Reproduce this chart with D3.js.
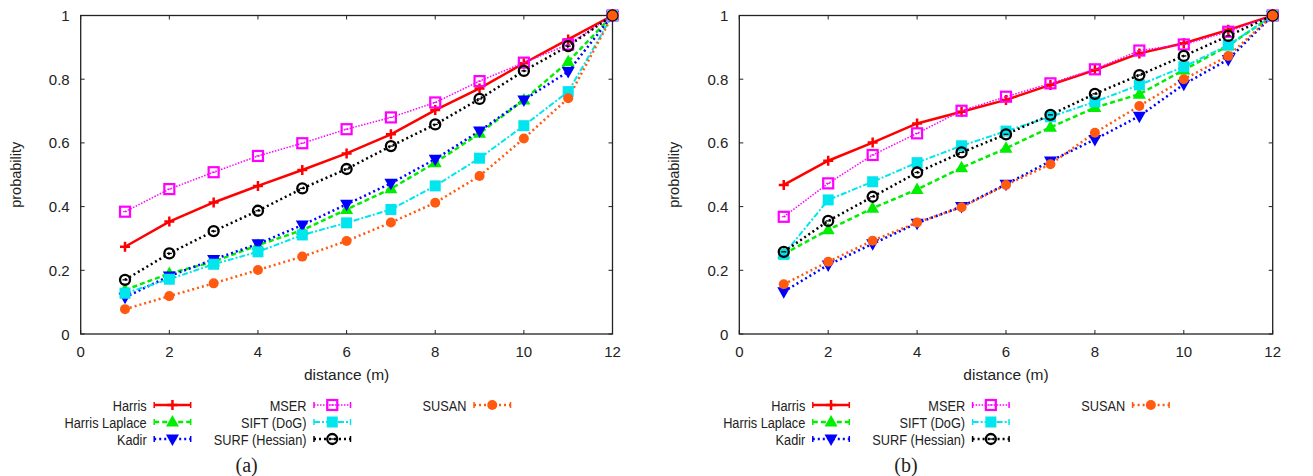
<!DOCTYPE html>
<html>
<head>
<meta charset="utf-8">
<script src="https://cdn.jsdelivr.net/npm/d3@7"></script>
<style>
  body { margin: 0; background: #fff; }
  svg text { font-family: "Liberation Sans", Arial, sans-serif; fill: #222; }
  .caption { font-family: "Liberation Serif", "DejaVu Serif", serif !important; }
</style>
</head>
<body>
<svg id="chart" width="1313" height="476"></svg>
<script>
// distance in metres
const distances = [1, 2, 3, 4, 5, 6, 7, 8, 9, 10, 11, 12];
const xTicks = [0, 2, 4, 6, 8, 10, 12];
const yTicks = [0, 0.2, 0.4, 0.6, 0.8, 1];
const detectorNames = ["Harris", "Harris Laplace", "Kadir", "MSER", "SIFT (DoG)", "SURF (Hessian)", "SUSAN"];

// panel (a)
const harrisA   = [0.274, 0.353, 0.413, 0.465, 0.515, 0.567, 0.627, 0.703, 0.771, 0.850, 0.925, 1];
const laplaceA  = [0.138, 0.190, 0.227, 0.279, 0.326, 0.391, 0.456, 0.538, 0.630, 0.735, 0.855, 1];
const kadirA    = [0.115, 0.182, 0.234, 0.283, 0.342, 0.407, 0.473, 0.549, 0.637, 0.735, 0.824, 1];
const mserA     = [0.384, 0.455, 0.508, 0.559, 0.599, 0.643, 0.680, 0.727, 0.794, 0.852, 0.909, 1];
const siftA     = [0.128, 0.172, 0.219, 0.258, 0.311, 0.349, 0.391, 0.465, 0.552, 0.654, 0.761, 1];
const surfA     = [0.170, 0.253, 0.323, 0.387, 0.457, 0.518, 0.590, 0.658, 0.738, 0.826, 0.904, 1];
const susanA    = [0.078, 0.119, 0.159, 0.201, 0.243, 0.292, 0.350, 0.412, 0.496, 0.614, 0.740, 1];

// panel (b)
const harrisB   = [0.468, 0.544, 0.601, 0.661, 0.698, 0.735, 0.782, 0.829, 0.881, 0.913, 0.955, 1];
const laplaceB  = [0.251, 0.327, 0.395, 0.454, 0.522, 0.583, 0.649, 0.711, 0.753, 0.829, 0.905, 1];
const kadirB    = [0.133, 0.217, 0.283, 0.348, 0.400, 0.470, 0.543, 0.611, 0.684, 0.784, 0.862, 1];
const mserB     = [0.368, 0.473, 0.562, 0.630, 0.701, 0.745, 0.787, 0.831, 0.890, 0.909, 0.949, 1];
const siftB     = [0.250, 0.421, 0.478, 0.538, 0.591, 0.637, 0.682, 0.729, 0.782, 0.839, 0.907, 1];
const surfB     = [0.258, 0.355, 0.431, 0.507, 0.570, 0.627, 0.688, 0.754, 0.813, 0.873, 0.936, 1];
const susanB    = [0.156, 0.227, 0.293, 0.350, 0.398, 0.468, 0.533, 0.632, 0.716, 0.800, 0.873, 1];

// look of each detector, same order as detectorNames
const styles = [
  { color: "#ff0000", width: 2.5, dash: null,        marker: "plus" },
  { color: "#00ee00", width: 2.5, dash: "5,3",       marker: "triUp" },
  { color: "#0000ff", width: 2.5, dash: "2,3",       marker: "triDown" },
  { color: "#ff00ff", width: 1.5, dash: "1.5,1.5",   marker: "square" },
  { color: "#00e5ee", width: 2,   dash: "6,2,2,2",   marker: "fsquare" },
  { color: "#000000", width: 2.5, dash: "2,3",       marker: "ocircle" },
  { color: "#ff5a10", width: 2.5, dash: "2,3",       marker: "fcircle" }
];

const panels = [
  { caption: "(a)", x0: 80.7, x1: 612.5, series: [harrisA, laplaceA, kadirA, mserA, siftA, surfA, susanA] },
  { caption: "(b)", x0: 739.3, x1: 1272.7, series: [harrisB, laplaceB, kadirB, mserB, siftB, surfB, susanB] }
];

const svg = d3.select("#chart");
const yTop = 15.5, yBot = 334;

// draws one marker centred at (x, y)
function drawMarker(g, type, x, y, color) {
  if (type === "plus") {
    g.append("path").attr("d", `M${x-5},${y}H${x+5}M${x},${y-5}V${y+5}`)
      .attr("stroke", color).attr("stroke-width", 2.5).attr("fill", "none");
  } else if (type === "triUp") {
    g.append("path").attr("d", `M${x},${y-7}L${x+6.5},${y+4.5}L${x-6.5},${y+4.5}Z`).attr("fill", color);
  } else if (type === "triDown") {
    g.append("path").attr("d", `M${x},${y+7}L${x+6.5},${y-4.5}L${x-6.5},${y-4.5}Z`).attr("fill", color);
  } else if (type === "square") {
    g.append("rect").attr("x", x-5).attr("y", y-5).attr("width", 10).attr("height", 10)
      .attr("fill", "none").attr("stroke", color).attr("stroke-width", 2.2);
    g.append("path").attr("d", `M${x-2},${y}H${x+2}`).attr("stroke", color).attr("stroke-width", 1);
  } else if (type === "fsquare") {
    g.append("rect").attr("x", x-5.5).attr("y", y-5.5).attr("width", 11).attr("height", 11).attr("fill", color);
  } else if (type === "ocircle") {
    g.append("circle").attr("cx", x).attr("cy", y).attr("r", 5)
      .attr("fill", "none").attr("stroke", color).attr("stroke-width", 2.3);
    g.append("path").attr("d", `M${x-2.5},${y}H${x+2.5}`).attr("stroke", color).attr("stroke-width", 1.3);
  } else if (type === "fcircle") {
    g.append("circle").attr("cx", x).attr("cy", y).attr("r", 5).attr("fill", color);
  }
}

panels.forEach(p => {
  const x = d3.scaleLinear().domain([0, 12]).range([p.x0, p.x1]);
  const y = d3.scaleLinear().domain([0, 1]).range([yBot, yTop]);
  const g = svg.append("g");

  // frame
  g.append("rect").attr("x", p.x0).attr("y", yTop).attr("width", p.x1 - p.x0).attr("height", yBot - yTop)
    .attr("fill", "none").attr("stroke", "#222").attr("stroke-width", 1.3);

  // ticks, mirrored on all four sides
  xTicks.forEach(t => {
    g.append("path").attr("d", `M${x(t)},${yBot}v-4M${x(t)},${yTop}v4`).attr("stroke", "#222");
    g.append("text").attr("x", x(t)).attr("y", 356.5).attr("text-anchor", "middle")
      .attr("font-size", 15).text(t);
  });
  yTicks.forEach(t => {
    g.append("path").attr("d", `M${p.x0},${y(t)}h4M${p.x1},${y(t)}h-4`).attr("stroke", "#222");
    g.append("text").attr("x", p.x0 - 11).attr("y", y(t) + 5.5).attr("text-anchor", "end")
      .attr("font-size", 15).text(t);
  });

  g.append("text").attr("x", (p.x0 + p.x1) / 2).attr("y", 380).attr("text-anchor", "middle")
    .attr("font-size", 15.5).text("distance (m)");
  g.append("text").attr("transform", `translate(${p.x0 - 60},${(yTop + yBot) / 2}) rotate(-90)`)
    .attr("text-anchor", "middle").attr("font-size", 14.5).text("probability");

  const line = d3.line().x((d, i) => x(distances[i])).y(d => y(d));

  p.series.forEach((vals, k) => {
    const s = styles[k];
    g.append("path").datum(vals).attr("d", line).attr("fill", "none")
      .attr("stroke", s.color).attr("stroke-width", s.width)
      .attr("stroke-dasharray", s.dash);
  });
  p.series.forEach((vals, k) => {
    vals.forEach((v, i) => drawMarker(g, styles[k].marker, x(distances[i]), y(v), styles[k].color));
  });

  // legend: three columns
  const off = p.x0 - 80.7;
  const cols = [146.7, 306.5, 466.5];
  detectorNames.forEach((name, k) => {
    const col = Math.floor(k / 3), row = k % 3;
    const cx = cols[col] + off, cy = 405 + row * 17;
    const s = styles[k];
    g.append("text").attr("transform", `translate(${cx},${cy + 6}) scale(0.88,1)`)
      .attr("text-anchor", "end").attr("font-size", 14.5).text(name);
    const lx0 = cx + 7.5, lx1 = cx + 44;
    g.append("path").attr("d", `M${lx0},${cy}H${lx1}`).attr("stroke", s.color)
      .attr("stroke-width", s.width).attr("stroke-dasharray", s.dash);
    g.append("path").attr("d", `M${lx0},${cy-3}v6M${lx1},${cy-3}v6`).attr("stroke", s.color).attr("stroke-width", 1.5);
    drawMarker(g, s.marker, (lx0 + lx1) / 2, cy, s.color);
  });

  g.append("text").attr("class", "caption").attr("x", (p.x0 + p.x1) / 2 - 100).attr("y", 472)
    .attr("text-anchor", "middle").attr("font-size", 20).text(p.caption);
});
</script>
</body>
</html>
